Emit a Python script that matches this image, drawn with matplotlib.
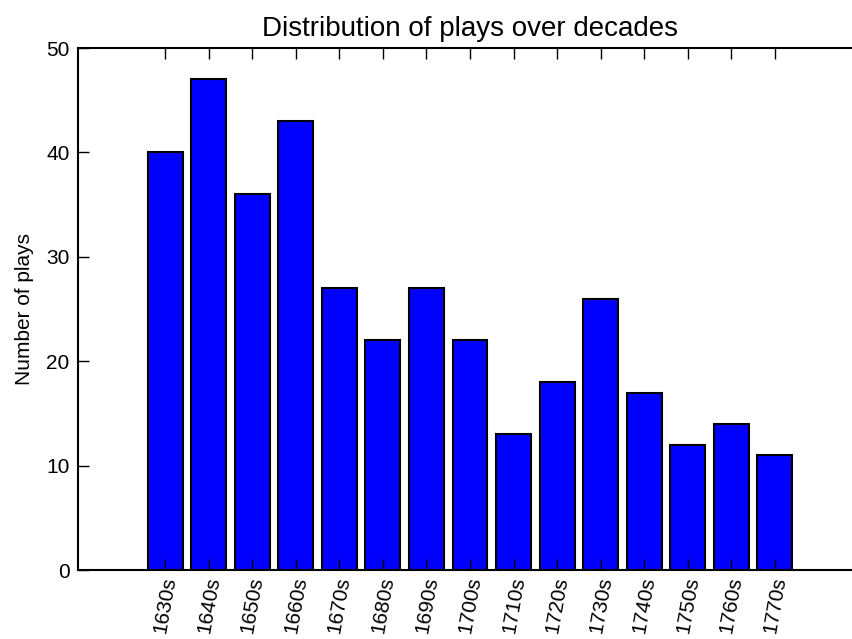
import matplotlib
matplotlib.use("Agg")
import matplotlib.pyplot as plt
import numpy as np

decades = ["1630s", "1640s", "1650s", "1660s", "1670s", "1680s", "1690s", "1700s",
           "1710s", "1720s", "1730s", "1740s", "1750s", "1760s", "1770s"]
counts = [40, 47, 36, 43, 27, 22, 27, 22, 13, 18, 26, 17, 12, 14, 11]

plt.rcParams['font.family'] = ['Liberation Sans', 'DejaVu Sans']
plt.rcParams['font.size'] = 15

fig = plt.figure(figsize=(8.53, 6.39), dpi=100)
ax = fig.add_axes([78/853, 69/639, (862-78)/853, (570-48)/639])

x = np.arange(len(decades))
ax.bar(x, counts, width=0.8, color='#0000ff', edgecolor='black', linewidth=1.5, align='center')
ax.set_xlim(-2, 16)
ax.set_ylim(0, 50)
ax.set_yticks([0, 10, 20, 30, 40, 50])
ax.set_xticks(x)
ax.set_xticklabels(decades, rotation=80, fontsize=15)
ax.tick_params(direction='in', length=8, width=1, top=True, right=False, labelsize=15, pad=6)
ax.tick_params(axis='x', pad=4)
for s in ax.spines.values():
    s.set_linewidth(1.5)
ax.set_ylabel("Number of plays", fontsize=15, labelpad=9)
ax.set_title("Distribution of plays over decades", fontsize=20, pad=9)

fig.savefig("out.png", dpi=100)
